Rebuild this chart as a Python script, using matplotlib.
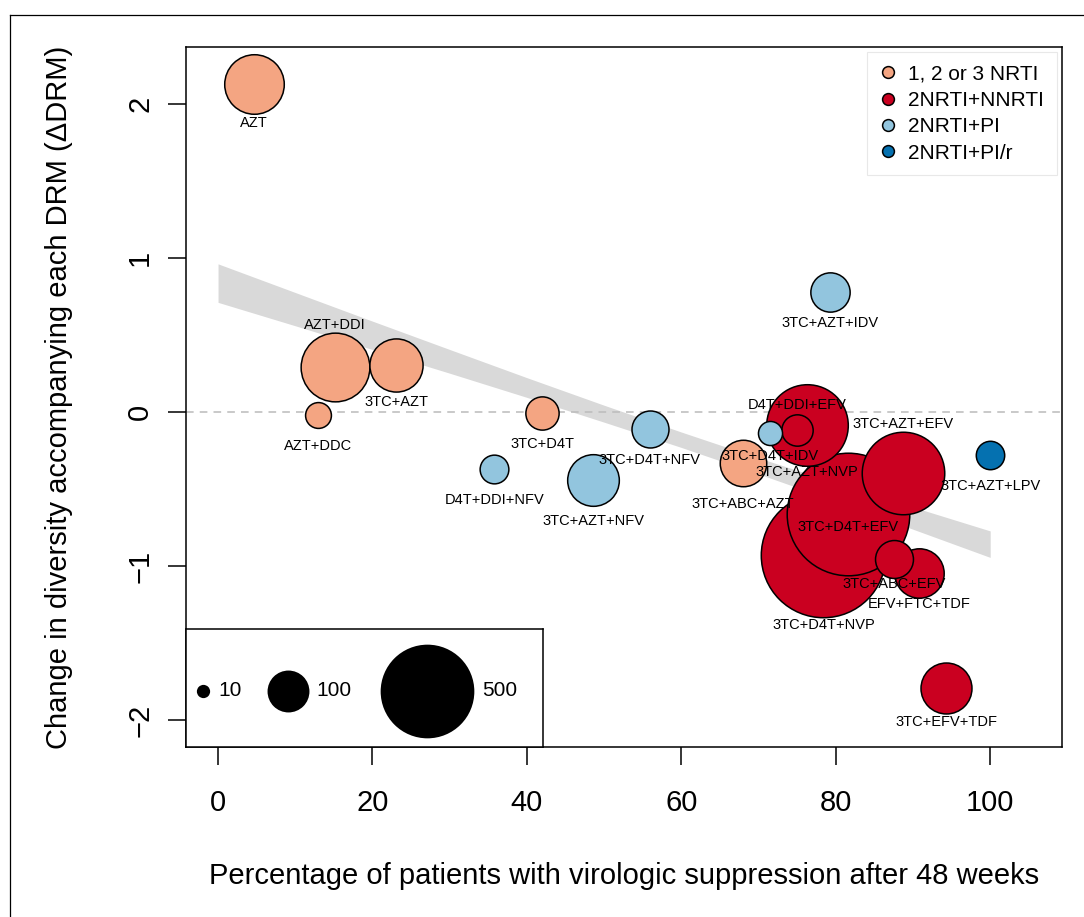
import numpy as np
import matplotlib
matplotlib.use('Agg')
import matplotlib.pyplot as plt
from matplotlib.lines import Line2D

plt.rcParams['font.family'] = ['Liberation Sans', 'DejaVu Sans']

# one bubble per regimen
regimens = ['AZT', 'AZT+DDI', '3TC+AZT', 'AZT+DDC', '3TC+D4T', 'D4T+DDI+NFV',
            '3TC+AZT+NFV', '3TC+D4T+NFV', '3TC+D4T+IDV', '3TC+ABC+AZT',
            'D4T+DDI+EFV', '3TC+AZT+NVP', '3TC+AZT+EFV', '3TC+AZT+LPV',
            '3TC+D4T+EFV', '3TC+ABC+EFV', 'EFV+FTC+TDF', '3TC+D4T+NVP',
            '3TC+EFV+TDF', '3TC+AZT+IDV']
pct_suppressed = [4.6, 15.1, 23.1, 13.0, 42.0, 35.8, 48.6, 55.9, 71.5, 68.0,
                  75.0, 76.3, 88.7, 100.0, 81.6, 87.5, 90.8, 78.4, 94.3, 79.3]
delta_drm = [2.13, 0.29, 0.305, -0.02, -0.005, -0.367, -0.443, -0.109, -0.136,
             -0.333, -0.114, -0.083, -0.393, -0.277, -0.662, -0.955, -1.045,
             -0.929, -1.79, 0.779]
n_patients = [202, 269, 161, 38, 63, 47, 152, 78, 33, 123,
              56, 379, 388, 46, 856, 82, 139, 882, 148, 88]
drug_class = [0, 0, 0, 0, 0, 2, 2, 2, 2, 0, 1, 1, 1, 3, 1, 1, 1, 1, 1, 2]

class_names = ['1, 2 or 3 NRTI', '2NRTI+NNRTI', '2NRTI+PI', '2NRTI+PI/r']
class_colors = ['#F4A582', '#CA0020', '#92C5DE', '#0571B0']

# confidence band of the weighted regression
band_x = [0, 10, 20, 30, 40, 50, 60, 70, 80, 90, 100]
band_hi = [0.962, 0.776, 0.590, 0.406, 0.223, 0.044, -0.130, -0.298, -0.459, -0.617, -0.772]
band_lo = [0.712, 0.560, 0.406, 0.252, 0.095, -0.066, -0.230, -0.402, -0.579, -0.761, -0.944]

size_keys = [10, 100, 500]

# label offset from bubble centre, in points (negative = below)
label_dy = [-28.2, 30.6, -26.9, -21.9, -22.5, -22.7, -29.2, -22.5, -16.3, -29.3,
            17.6, -33.8, 35.3, -22.5, -9.1, -18.0, -22.3, -50.4, -24.5, -22.6]

W, H = 1084, 917
S_PER = 9.1  # marker area (pt^2) per patient

fig = plt.figure(figsize=(W / 100, H / 100), dpi=100)
fig.patch.set_facecolor('white')
ax = fig.add_axes([186 / W, (H - 747) / H, 876 / W, 700 / H])

ax.fill_between(band_x, band_lo, band_hi, color='#D9D9D9', lw=0, zorder=1)
ax.axhline(0, color='#BBBBBB', ls=(0, (5, 4)), lw=1.1, zorder=2)

order = np.argsort(n_patients)[::-1]
for i in order:
    ax.scatter(pct_suppressed[i], delta_drm[i], s=S_PER * n_patients[i],
               color=class_colors[drug_class[i]], edgecolor='black',
               linewidth=1.1, zorder=3)

for i, lab in enumerate(regimens):
    ax.annotate(lab, (pct_suppressed[i], delta_drm[i]),
                xytext=(0, label_dy[i]), textcoords='offset points',
                ha='center', va='center', fontsize=10.5, zorder=5)

ax.set_xlim(-4.15, 109.3)
ax.set_ylim(-2.175, 2.37)
ax.set_xticks([0, 20, 40, 60, 80, 100])
ax.set_yticks([-2, -1, 0, 1, 2])
ax.set_yticklabels(['\u22122', '\u22121', '0', '1', '2'], rotation=90, va='center')
ax.tick_params(axis='both', labelsize=21, length=13, width=1.1, direction='out')
ax.tick_params(axis='x', pad=17)
ax.tick_params(axis='y', pad=10)
for sp in ax.spines.values():
    sp.set_linewidth(1.1)

ax.set_xlabel('Percentage of patients with virologic suppression after 48 weeks',
              fontsize=21, labelpad=33)
ax.set_ylabel('Change in diversity accompanying each DRM (\u0394DRM)',
              fontsize=21, labelpad=38)

handles = [Line2D([], [], ls='none', marker='o', markersize=8.5,
                  markerfacecolor=c, markeredgecolor='black', markeredgewidth=1.1)
           for c in class_colors]
leg = ax.legend(handles, class_names, loc='upper right', fontsize=15,
                frameon=True, fancybox=False, edgecolor='#E3E3E3',
                borderaxespad=0.25, handlelength=0.8, handletextpad=0.6,
                labelspacing=0.35, borderpad=0.6)
leg.get_frame().set_linewidth(0.8)

# bubble size key in the lower left corner
kx = fig.add_axes([186 / W, (H - 747) / H, 357 / W, 118 / H])
kx.set_xlim(0, 357)
kx.set_ylim(0, 118)
kx.set_xticks([])
kx.set_yticks([])
kx.set_facecolor('white')
for sp in kx.spines.values():
    sp.set_linewidth(1.1)
key_x = [17, 101.7, 240.7]
key_tx = [32, 130, 295.7]
for k, xk, xt in zip(size_keys, key_x, key_tx):
    kx.scatter(xk, 56, s=S_PER * k, color='black', lw=0)
    kx.text(xt, 56, str(k), fontsize=15, ha='left', va='center')

# outer frame
fig.add_artist(Line2D([9.5 / W, 9.5 / W], [0, 1 - 14.5 / H], transform=fig.transFigure,
                      color='black', lw=0.9))
fig.add_artist(Line2D([9.5 / W, 1], [1 - 14.5 / H, 1 - 14.5 / H], transform=fig.transFigure,
                      color='black', lw=0.9))

fig.savefig('out.png', dpi=100)
